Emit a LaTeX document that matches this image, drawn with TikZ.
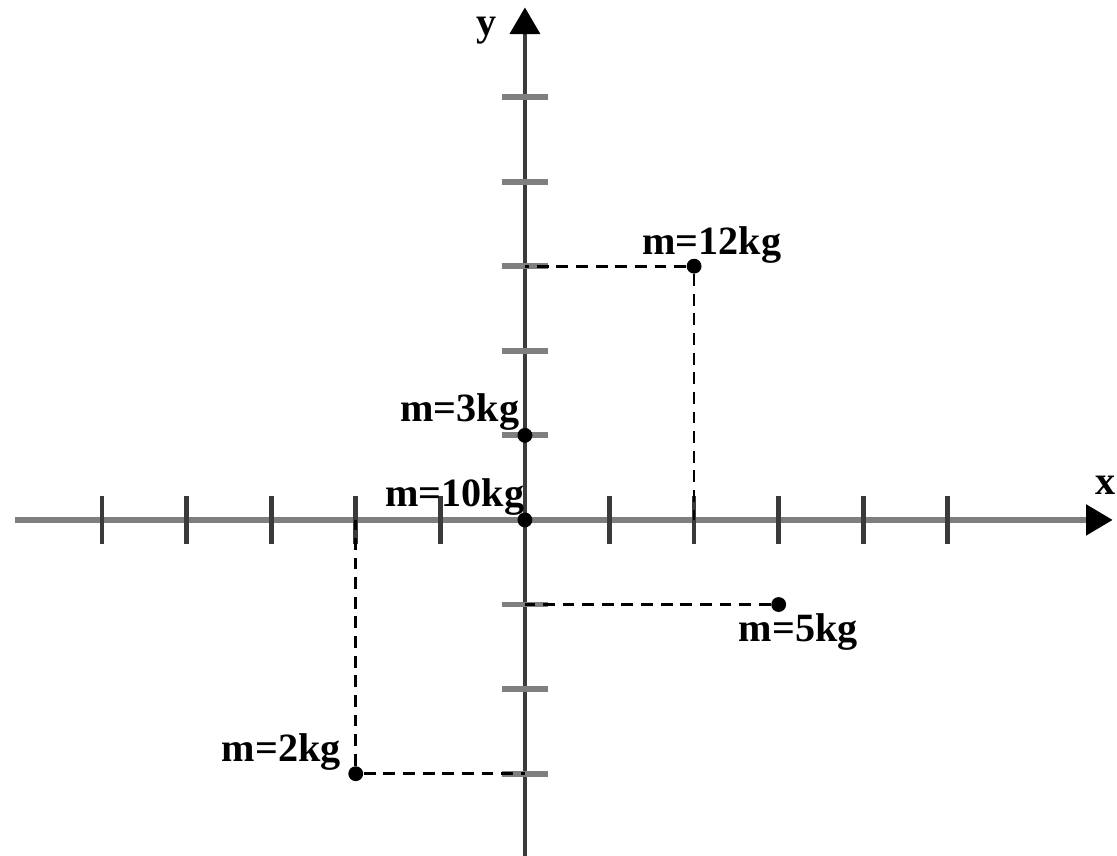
\documentclass[tikz,border=0pt]{standalone}
\usepackage{fontspec}
\setmainfont{Liberation Serif}
\usetikzlibrary{arrows.meta, positioning}
\definecolor{caxis}{HTML}{7F7F7F}
\definecolor{cdark}{HTML}{3A3A3A}
\tikzset{
  every picture/.style={font=\bfseries\fontsize{13.5}{16}\selectfont},
  axis/.style={line width=2pt, -{Triangle[length=9pt, width=10pt, color=black]}},
  tickmark/.style={line width=1.6pt},
  mass/.style={circle, fill=black, inner sep=0pt, minimum size=5pt},
  guide/.style={dashed, dash pattern=on 4pt off 2.6pt, line width=0.9pt},
  lbl/.style={inner sep=1pt},
}

\begin{document}
\begin{tikzpicture}
  \useasboundingbox (-6.206,-3.972) rectangle (7.0,6.147);
  % axes
  \coordinate (xs) at (-6.03,0);
  \coordinate (xe) at (6.95,0);
  \coordinate (ys) at (0,-3.98);
  \coordinate (ye) at (0,6.06);
  \draw[axis, draw=caxis] (xs) -- (xe);
  \draw[axis, draw=cdark, line width=1.6pt] (ys) -- (ye);
  \node[lbl] (xlab) at (6.86,0.41) {x};
  \node[lbl] (ylab) at (-0.45,5.79) {y};
  % ticks
  \foreach \i in {-5,...,-1,1,2,...,5}
    \draw[tickmark, draw=cdark] (\i,-0.28) -- (\i,0.28);
  \foreach \j in {-3,-2,-1,1,2,...,5}
    \draw[tickmark, draw=caxis, line width=2pt] (-0.27,\j) -- (0.27,\j);
  % masses
  \node[mass] (m12) at (2,3) {};
  \node[mass] (m3) at (0,1) {};
  \node[mass] (m10) at (0,0) {};
  \node[mass] (m5) at (3,-1) {};
  \node[mass] (m2) at (-2,-3) {};
  \node[lbl] (l12) at (2.21,3.25) {m=12kg};
  \node[lbl] (l3) at (-0.77,1.28) {m=3kg};
  \node[lbl] (l10) at (-0.83,0.27) {m=10kg};
  \node[lbl] (l5) at (3.23,-1.32) {m=5kg};
  \node[lbl] (l2) at (-2.88,-2.74) {m=2kg};
  % projections
  \coordinate (p12y) at (0,3);
  \coordinate (p12x) at (2,0);
  \coordinate (p5y) at (0,-1);
  \coordinate (p2y) at (0,-3);
  \coordinate (p2x) at (-2,0);
  \draw[guide] (m12) -- (p12y);
  \draw[guide] (m12) -- (p12x);
  \draw[guide] (m5) -- (p5y);
  \draw[guide] (m2) -- (p2y);
  \draw[guide] (m2) -- (p2x);
\end{tikzpicture}
\end{document}
